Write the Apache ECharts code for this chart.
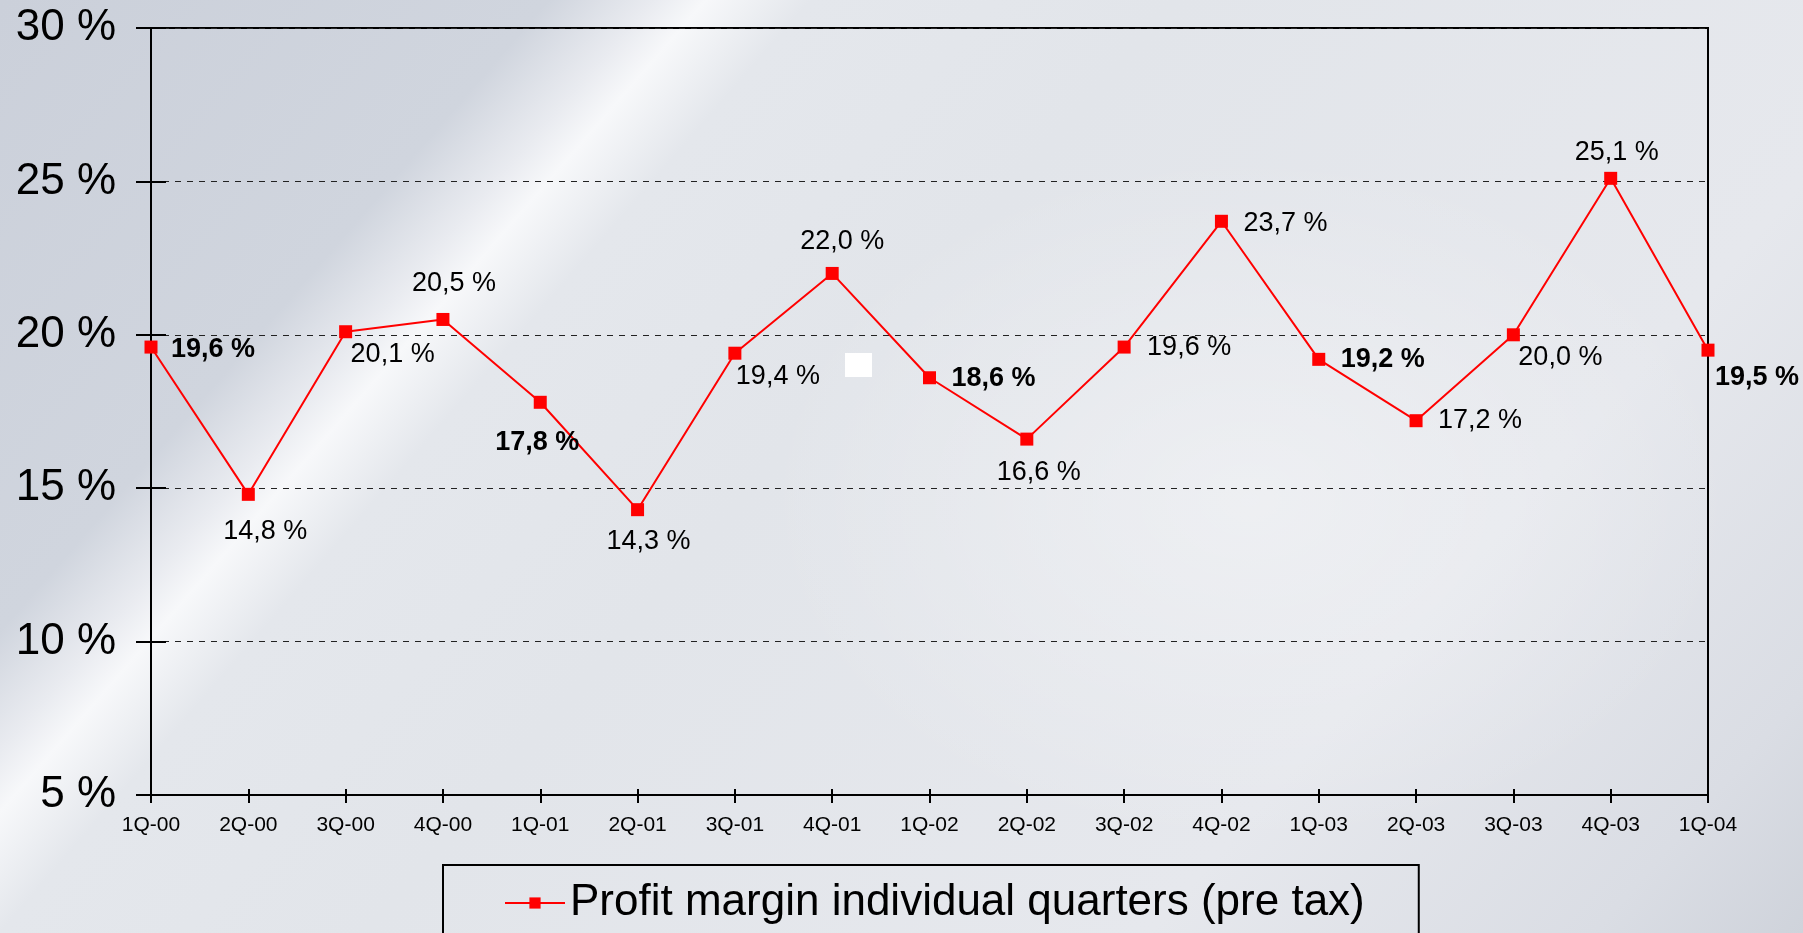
<!DOCTYPE html>
<html>
<head>
<meta charset="utf-8">
<script src="https://cdn.jsdelivr.net/npm/echarts@6/dist/echarts.min.js"></script>
<style>
  html, body { margin: 0; padding: 0; }
  body {
    width: 1803px; height: 933px; overflow: hidden;
    background:
      radial-gradient(ellipse 700px 500px at 1250px 500px, rgba(255,255,255,0.35), rgba(255,255,255,0) 70%),
      linear-gradient(131deg, #cbd0da 0%, #d0d5de 21%, #e9ebf0 25%, #f7f8fa 27%, #e4e7ec 31%, #e2e5ea 45%, #e6e8ed 75%, #dadde4 92%, #cfd3db 100%);
  }
  #main { width: 1803px; height: 933px; }
</style>
</head>
<body>
<div id="main"></div>
<script>
var quarters = ['1Q-00', '2Q-00', '3Q-00', '4Q-00', '1Q-01', '2Q-01', '3Q-01', '4Q-01', '1Q-02',
  '2Q-02', '3Q-02', '4Q-02', '1Q-03', '2Q-03', '3Q-03', '4Q-03', '1Q-04']
var margin = [19.6, 14.8, 20.1, 20.5, 17.8, 14.3, 19.4, 22.0, 18.6, 16.6, 19.6, 23.7, 19.2, 17.2, 20.0, 25.1, 19.5]
var yTicks = [5, 10, 15, 20, 25, 30]

// where each value label sits next to its marker (px)
var labelOffsets = [[62, 2], [17, 37], [47, 23], [11, -36], [-3, 40], [11, 32], [43, 23], [10, -32],
  [64, 1], [12, 33], [65, 0], [64, 2], [64, 0], [64, 0], [47, 23], [6, -26], [49, 27]]

var chart = echarts.init(document.getElementById('main'))

function fmt(v) {
  return v.toFixed(1).replace('.', ',') + ' %'
}

var points = margin.map(function (v, i) {
  return {
    value: v,
    label: {
      offset: labelOffsets[i],
      fontWeight: quarters[i].indexOf('1Q') === 0 ? 'bold' : 'normal'
    }
  }
})

chart.setOption({
  animation: false,
  textStyle: { fontFamily: 'Liberation Sans, Arial, sans-serif' },
  grid: {
    left: 151, right: 95, top: 28, bottom: 138,
    show: true, borderColor: '#000', borderWidth: 2
  },
  legend: {
    left: 443, top: 865,
    padding: [16, 54, 60, 61],
    borderColor: '#000', borderWidth: 2,
    itemWidth: 60, itemHeight: 14,
    textStyle: { fontSize: 44, color: '#000', fontFamily: 'Liberation Sans, Arial, sans-serif' },
    data: ['Profit margin individual quarters (pre tax)']
  },
  xAxis: [{
    type: 'category',
    data: quarters,
    boundaryGap: false,
    axisLine: { lineStyle: { color: '#000', width: 2 } },
    axisTick: { alignWithLabel: true, length: 8, lineStyle: { color: '#000', width: 2 } },
    axisLabel: { color: '#000', fontSize: 21, margin: 20, interval: 0 }
  }, {
    type: 'category',
    data: quarters,
    boundaryGap: false,
    position: 'bottom',
    axisLine: { show: false },
    axisTick: { inside: true, length: 6, lineStyle: { color: '#000', width: 2 } },
    axisLabel: { show: false }
  }],
  yAxis: [{
    type: 'value',
    min: yTicks[0], max: yTicks[yTicks.length - 1], interval: 5,
    axisLine: { show: true, lineStyle: { color: '#000', width: 2 } },
    axisTick: { show: true, length: 15, lineStyle: { color: '#000', width: 2 } },
    axisLabel: { color: '#000', fontSize: 44, margin: 35, formatter: '{value} %' },
    splitLine: { lineStyle: { color: '#222', width: 1, type: [6, 6] } }
  }, {
    type: 'value',
    position: 'left',
    min: yTicks[0], max: yTicks[yTicks.length - 1], interval: 5,
    axisLine: { show: false },
    axisTick: { show: true, inside: true, length: 15, lineStyle: { color: '#000', width: 2 } },
    axisLabel: { show: false },
    splitLine: { show: false }
  }],
  graphic: [{
    type: 'rect',
    shape: { x: 845, y: 353, width: 27, height: 24 },
    style: { fill: '#ffffff' }
  }],
  series: [{
    name: 'Profit margin individual quarters (pre tax)',
    type: 'line',
    data: points,
    symbol: 'rect',
    symbolSize: 13,
    itemStyle: { color: '#ff0000' },
    lineStyle: { color: '#ff0000', width: 2 },
    label: {
      show: true,
      position: 'inside',
      color: '#000',
      fontSize: 27,
      formatter: function (p) { return fmt(p.value) }
    },
    z: 5
  }]
})
</script>
</body>
</html>
